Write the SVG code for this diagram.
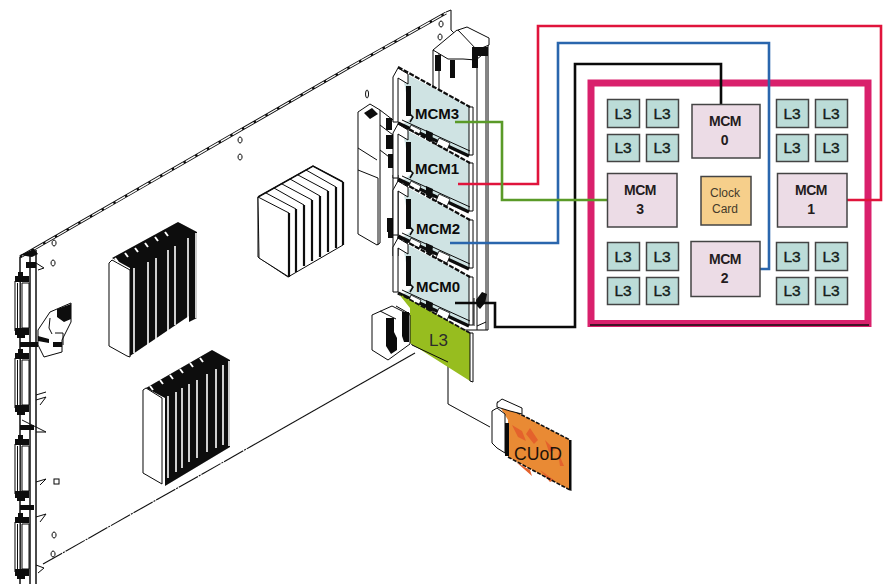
<svg xmlns="http://www.w3.org/2000/svg" xmlns:xlink="http://www.w3.org/1999/xlink" width="884" height="584" viewBox="0 0 884 584">
<style>
.ink{fill:none;stroke:#0a0a0a;stroke-width:1}
.ink2{fill:none;stroke:#0a0a0a;stroke-width:1.5}
.wf{fill:#fff;stroke:#0a0a0a;stroke-width:1}
.blk{fill:#0a0a0a;stroke:none}
.bead{fill:none;stroke:#0a0a0a;stroke-width:3}
.beadi{fill:none;stroke:#fff;stroke-width:1.300;stroke-dasharray:11 2.500}
.slit{stroke:#fff;stroke-width:1.600;fill:none}
.wire{fill:none;stroke-width:2.600;stroke-linejoin:miter}
.l3 rect{fill:#bcdcd8;stroke:#444;stroke-width:1.500}
.mcm rect{fill:#ecdce6;stroke:#444;stroke-width:1.500}
text{font-family:"Liberation Sans",Arial,sans-serif}
.l3 text{font-size:15.500px;fill:#141c1a;text-anchor:middle;stroke:#141c1a;stroke-width:.4}
.mcm text{font-size:14px;font-weight:bold;fill:#241c20;text-anchor:middle;letter-spacing:-.4px}
.brd{font-size:15px;font-weight:bold;fill:#0c0c0c}
</style>
<defs>
<filter id="soft" x="-2%" y="-2%" width="104%" height="104%"><feGaussianBlur stdDeviation="0.35"/></filter>
<g id="board">
<path d="M402 72L470 107L469 156L403 124L411 118L407 98Z" fill="#cfe3e3"/>
<path class="wf" d="M393 77L398 68L408 74L408 84L398 78L398 122L393 122Z"/>
<rect class="blk" x="406" y="86" width="5" height="30"/>
<path class="ink2" d="M408 112L413 117L410 122"/>
<path class="wf" d="M469 107H473V155H469Z"/>
<path d="M398 67L470 107" fill="none" stroke="#0a0a0a" stroke-width="2.200" stroke-dasharray="5 1.500"/>
<path d="M398 123L469 156" fill="none" stroke="#0a0a0a" stroke-width="3.200"/>
<path d="M402 120L470 151" class="ink"/>
<path d="M411 125l10 5l-2 5l-10-5zM439 138l11 5l-3 7l-11-5z" fill="#fff" stroke="#0a0a0a" stroke-width=".8"/>
<path class="blk" d="M426 130l7 3l-1 9l-6-3z"/>
</g>
<g id="conn">
<path class="wf" d="M15 0H20V50H15Z"/>
<path class="ink" d="M17.500 2V48"/>
<path class="blk" d="M15 -5h14v6h-14zM15 47h14v7h-14zM18 -9l5 0l0 5l-5 0zM17 53l8 0l0 4l-8 0z"/>
<path class="wf" d="M22 2H29V47H22Z"/>
</g>
</defs>

<g id="plate" filter="url(#soft)">
<path class="bead" d="M20 257L350 67L446 13"/>
<path class="beadi" d="M22 256L350 67L446 13"/>
<path d="M258 162l8 -4.600" stroke="#fff" stroke-width="4" fill="none"/>
<path d="M446 12L451 10V30L457 36" class="ink"/>
<path d="M43 564L250 447" fill="none" stroke="#111" stroke-width="1.100" stroke-dasharray="22 1 2 1"/>
<path d="M250 447L415 353" fill="none" stroke="#111" stroke-width="1.100"/>
<g id="rail">
<path class="ink2" d="M20 257V584M30 252V584M36 250V584"/>
<use xlink:href="#conn" href="#conn" transform="translate(0,281)"/>
<use xlink:href="#conn" href="#conn" transform="translate(0,358)"/>
<use xlink:href="#conn" href="#conn" transform="translate(0,444)"/>
<use xlink:href="#conn" href="#conn" transform="translate(0,522)"/>
<path class="ink" d="M36 263l8 5l-6 2M36 395l10 -3M36 400l10 -3l-6 8M36 432l10 0M22 420l24 12M36 482l10 -3l-6 6M36 517l10 -3l-6 8M36 565l8 3l-6 5"/>
<path class="blk" d="M20 255l14 -6l4 5l-6 3zM26 262h10v6h-10zM20 342h18v5h-18zM20 425h14v5h-14zM20 505h14v5h-14z"/>
<path class="wf" d="M38 330L50 312L71 303V322L62 340L62 352L44 357L38 345Z"/>
<path class="blk" d="M57 309l14 -5v15l-7 3l-7 -5zM53 342h9v5h-9zM38 336l11 3v4l-11 -2z"/>
<path class="ink" d="M50 318l-1 10l3 6M55 333h8v12"/>
</g>
<path class="wf" d="M54 240a2 3 0 1 0 .1 0zM53 260a2 3 0 1 0 .1 0zM240 137a2 3 0 1 0 .1 0zM240 154a2 3 0 1 0 .1 0zM441 21a2 3 0 1 0 .1 0zM440 34a2 3 0 1 0 .1 0zM367 90a1.500 4 0 1 0 .1 0zM54 532a2 3 0 1 0 .1 0zM53 551a2 3 0 1 0 .1 0z"/>
<rect x="54" y="479" width="5" height="5" class="wf"/>

<g id="heatsink-a">
<path class="blk" d="M112 258L178 222L197 232V318L189 322L189 316L130 356V268Z"/>
<path class="wf" d="M109 263L112 260L130 270V356V357L127 356L109 346Z"/>
<path class="slit" d="M134 268V353M148 262V347M156 258V340M168 250V335M175 246V325M188 238V321M196 233V318"/>
<path d="M115 258l3 4M125 253l3 4M135 248l3 4M145 243l3 4M155 237l3 4M165 232l3 4" stroke="#fff" stroke-width="2" fill="none"/>
</g>
<g id="heatsink-b">
<path class="blk" d="M146 388L212 350L230 360V447L165 486V398Z"/>
<path class="wf" d="M143 390L146 388L162 398V484L143 473Z"/>
<path class="slit" d="M168 396V478M176 392V472M182 388V468M189 384V462M197 380V458M207 374V452M216 369V448M223 365V445M229 361V446"/>
<path d="M150 386l3 4M160 380l3 4M170 375l3 4M180 369l3 4M190 363l3 4M200 358l3 4" stroke="#fff" stroke-width="2" fill="none"/>
</g>
<g id="heatsink-c">
<path class="wf" d="M258 197L313 166L343 182V245L288 277L258 257Z"/>
<path class="wf" d="M258 197L289 213V277L259 258Z"/>
<path class="ink" d="M266 193L296 209M274 188L304 205M282 184L312 200M290 179L320 196M298 175L328 191M306 170L336 187"/>
<path d="M289 213V277M296 209V272M304 205V266M312 200V261M320 196V257M328 191V252M336 187V248M343 182V245" fill="none" stroke="#0a0a0a" stroke-width="2.200"/>
<path d="M258 197L313 166L343 182" class="ink2"/>
</g>

<g id="chassis">
<path class="wf" d="M358 112L370 104L380 110V243L377 245L358 234Z"/>
<path class="ink" d="M358 148L377 160M358 170L378 178V245M380 110L393 120M380 125L393 135M380 150L393 160"/>
<path class="blk" d="M364 113l8 -5l6 6l-8 5zM386 118h6v12h-6zM386 135h7v14h-7zM388 154h5v14h-5zM387 218h6v14h-6zM388 232h6v6h-6z"/>
<path class="wf" d="M393 175V256H398V175Z"/>
<path class="wf" d="M433 50H488V330H433Z"/>
<path class="ink" d="M439 50V330M477 50V330M486 50V330"/>
<path class="wf" d="M433 50L457 30L488 43V50L476 60L463 59L448 59Z"/>
<path class="wf" d="M458 30L467 27L489 38V45L477 50Z"/>
<path class="blk" d="M435 55h6v16h-6zM450 60h5v18h-5zM472 47h16v9h-16zM472 56h6v12h-6z"/>
<path class="blk" d="M476 300l6 -8l5 2l-2 9l-5 6l-3 -3z"/>
<path class="ink" d="M474 298V326M477 326l9 -4"/>
</g>
</g>

<g id="board-mcm3"><use xlink:href="#board" href="#board" filter="url(#soft)"/><text class="brd" x="415" y="119">MCM3</text></g>
<g id="board-mcm1"><use xlink:href="#board" href="#board" transform="translate(0,56)" filter="url(#soft)"/><text class="brd" x="415" y="174">MCM1</text></g>
<g id="board-mcm2"><use xlink:href="#board" href="#board" transform="translate(0,113)" filter="url(#soft)"/><text class="brd" x="416" y="234">MCM2</text></g>
<g id="board-mcm0"><use xlink:href="#board" href="#board" transform="translate(0,170)" filter="url(#soft)"/><text class="brd" x="416" y="292">MCM0</text></g>

<g id="cable" filter="url(#soft)">
<path class="ink" d="M411 344L448 362V404L490 427"/>
</g>
<g id="l3-module">
<path d="M398 293L470 333V381L410 343V308Z" fill="#97bd1f"/>
<path d="M398 293L470 333" fill="none" stroke="#111" stroke-width="1.800" stroke-dasharray="5 1.500"/>
<path class="ink" d="M412 345L448 362"/>
<path class="wf" d="M470 333H473V382L470 381Z"/>
<path class="wf" d="M372 315L392 306L410 315V344L388 360L372 350Z"/>
<path class="blk" d="M386 318h8v14l3 6v12l-6 4l-5 -8zM402 312h7v30h-5l-2 -6z"/>
<path class="ink" d="M380 311l16 8M396 306l14 8"/>
<text x="429" y="346" font-size="17" fill="#2c2c2c">L3</text>
</g>
<g id="cuod-module">
<path d="M497 402L570 440V490L508 457V420Z" fill="#e98a34"/>
<path d="M512 425l10 6l4 10l-8 -4zM530 428l8 12l-4 4l-8 -10zM545 440l10 10l-6 2zM516 462l14 8l2 6zM540 470l14 10l-4 2zM558 452l6 14l-4 0z" fill="#e4622c"/>
<path d="M497 402L570 440M508 457L570 490" fill="none" stroke="#111" stroke-width="1.600" stroke-dasharray="4 1.500"/>
<path class="blk" d="M569 440h2.500V491L569 490Z"/>
<path class="blk" d="M505 423h4v33h-4z"/>
<path class="wf" d="M492 411L497 408L505 414V453L497 448L492 443Z"/>
<path class="wf" d="M497 403L502 399L522 408V414L510 411L497 407Z"/>
<text x="514" y="460" font-size="17.600" fill="#1e120a">CUoD</text>
</g>

<g id="panel">
<rect x="591" y="83" width="277" height="240.500" fill="none" stroke="#d9206c" stroke-width="7"/>
<path d="M590 325H869" stroke="#111" stroke-width="1.500"/>
</g>

<g id="connectors">
<path class="wire" stroke="#e0143c" d="M458 184H538V26H881V200H847"/>
<path class="wire" stroke="#2a66ad" d="M450 243H558V43H769V269H759"/>
<path class="wire" stroke="#0a0a0a" d="M455 303H495V327H575V64H721V104"/>
<path class="wire" stroke="#5a9a28" d="M455 122H502V200H607"/>
</g>

<g id="l3-a1" class="l3"><rect x="607.500" y="99.500" width="32" height="28"/><text x="623" y="119">L3</text></g>
<g id="l3-a2" class="l3"><rect x="646.500" y="99.500" width="32" height="28"/><text x="662" y="119">L3</text></g>
<g id="l3-a3" class="l3"><rect x="607.500" y="134.500" width="32" height="27"/><text x="623" y="153">L3</text></g>
<g id="l3-a4" class="l3"><rect x="646.500" y="134.500" width="32" height="27"/><text x="662" y="153">L3</text></g>
<g id="l3-b1" class="l3"><rect x="776.500" y="99.500" width="32" height="28"/><text x="792" y="119">L3</text></g>
<g id="l3-b2" class="l3"><rect x="815.500" y="99.500" width="32" height="28"/><text x="831" y="119">L3</text></g>
<g id="l3-b3" class="l3"><rect x="776.500" y="134.500" width="32" height="27"/><text x="792" y="153">L3</text></g>
<g id="l3-b4" class="l3"><rect x="815.500" y="134.500" width="32" height="27"/><text x="831" y="153">L3</text></g>
<g id="l3-c1" class="l3"><rect x="607.500" y="242.500" width="32" height="28"/><text x="623" y="262">L3</text></g>
<g id="l3-c2" class="l3"><rect x="646.500" y="242.500" width="32" height="28"/><text x="662" y="262">L3</text></g>
<g id="l3-c3" class="l3"><rect x="607.500" y="277.500" width="32" height="27"/><text x="623" y="296">L3</text></g>
<g id="l3-c4" class="l3"><rect x="646.500" y="277.500" width="32" height="27"/><text x="662" y="296">L3</text></g>
<g id="l3-d1" class="l3"><rect x="776.500" y="242.500" width="32" height="28"/><text x="792" y="262">L3</text></g>
<g id="l3-d2" class="l3"><rect x="815.500" y="242.500" width="32" height="28"/><text x="831" y="262">L3</text></g>
<g id="l3-d3" class="l3"><rect x="776.500" y="277.500" width="32" height="27"/><text x="792" y="296">L3</text></g>
<g id="l3-d4" class="l3"><rect x="815.500" y="277.500" width="32" height="27"/><text x="831" y="296">L3</text></g>

<g id="mcm0" class="mcm"><rect x="692" y="104.500" width="68" height="53.500"/><text x="725" y="126">MCM</text><text x="724.500" y="145">0</text></g>
<g id="mcm3" class="mcm"><rect x="607.500" y="173.500" width="69.500" height="53.500"/><text x="640" y="195">MCM</text><text x="640" y="214">3</text></g>
<g id="mcm1" class="mcm"><rect x="777.500" y="173.500" width="69.500" height="53.500"/><text x="811" y="195">MCM</text><text x="811" y="214">1</text></g>
<g id="mcm2" class="mcm"><rect x="691" y="241.500" width="69" height="55"/><text x="725" y="264">MCM</text><text x="724.500" y="283">2</text></g>
<g id="clock"><rect x="701" y="176.500" width="50" height="48.500" fill="#f6cf8b" stroke="#444" stroke-width="1.500"/><text x="725" y="197" font-size="12" fill="#443a2a" text-anchor="middle">Clock</text><text x="725" y="213" font-size="12" fill="#443a2a" text-anchor="middle">Card</text></g>
</svg>
